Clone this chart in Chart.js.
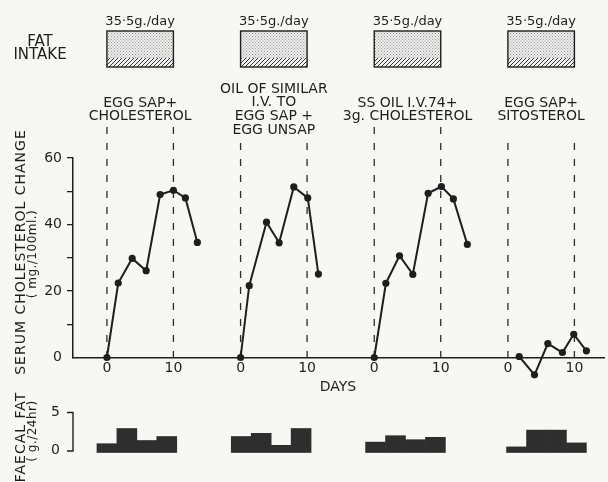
<!DOCTYPE html>
<html>
<head>
<meta charset="utf-8">
<script src="https://cdn.jsdelivr.net/npm/chart.js@4.4.1/dist/chart.umd.min.js"></script>
<style>
html,body{margin:0;padding:0;background:#f7f7f4;}
#wrap{width:608px;height:482px;position:relative;}
</style>
</head>
<body>
<div id="wrap"><canvas id="c" width="608" height="482"></canvas></div>
<script>
// ---------------- DATA ----------------
const PANEL_LABELS = [
  ['EGG SAP+', 'CHOLESTEROL'],
  ['OIL OF SIMILAR', 'I.V. TO', 'EGG SAP +', 'EGG UNSAP'],
  ['SS OIL I.V.74+', '3g. CHOLESTEROL'],
  ['EGG SAP+', 'SITOSTEROL']
];
const FAT_INTAKE = [35.5, 35.5, 35.5, 35.5];           // g./day
const X_TICK_DAYS = [0, 10];
const Y_TICKS = [0, 10, 20, 30, 40, 50, 60];
const Y_LABELLED = [0, 20, 40, 60];
const FF_TICKS = [0, 5];

// serum cholesterol change (mg./100ml.) vs day of each period
const DAYS_1 = [0, 1.7, 3.8, 5.9, 8.0, 10.0, 11.8, 13.6];
const CHOL_1 = [0, 22.4, 29.8, 26.1, 49.0, 50.3, 48.0, 34.6];
const DAYS_2 = [0, 1.3, 3.9, 5.8, 8.0, 10.1, 11.7];
const CHOL_2 = [0, 21.6, 40.7, 34.5, 51.3, 48.0, 25.1];
const DAYS_3 = [0, 1.75, 3.8, 5.8, 8.1, 10.1, 11.9, 14.0];
const CHOL_3 = [0, 22.3, 30.6, 25.0, 49.4, 51.4, 47.7, 34.0];
const DAYS_4 = [1.7, 4.0, 6.0, 8.2, 9.9, 11.8];
const CHOL_4 = [0.3, -5.2, 4.2, 1.5, 7.0, 2.0];

// faecal fat (g./24hr), 3-day collection periods (centre day)
const FF_DAYS_1 = [0, 3, 6, 9];
const FF_1 = [1.1, 3.0, 1.5, 2.0];
const FF_DAYS_2 = [0.1, 3.1, 6.1, 9.1];
const FF_2 = [2.0, 2.4, 0.9, 3.0];
const FF_DAYS_3 = [0.2, 3.2, 6.2, 9.2];
const FF_3 = [1.3, 2.1, 1.6, 1.9];
const FF_DAYS_4 = [1.3, 4.3, 7.3, 10.3];
const FF_4 = [0.7, 2.8, 2.8, 1.2];

// ---------------- LAYOUT ----------------
const PANEL_SPAN = 20.1;     // days between panel origins on the shared axis
const X_MIN = -5.1, X_MAX = 74.75;
const AREA_LEFT = 73, AREA_TOP = 158, AREA_BOTTOM = 357.5, H = 482;
const FF_ZERO_PX = 452.5, FF_PX_PER_UNIT = 8;
const DASH_TOP = [127, 143, 127, 143];
const LABEL_TOP = [103, 89, 103, 103];
const FONT = '"DejaVu Sans", sans-serif';
const INK = '#1e1e1e';

const chol = [[DAYS_1, CHOL_1], [DAYS_2, CHOL_2], [DAYS_3, CHOL_3], [DAYS_4, CHOL_4]];
const ff = [[FF_DAYS_1, FF_1], [FF_DAYS_2, FF_2], [FF_DAYS_3, FF_3], [FF_DAYS_4, FF_4]];

const ffMin = (FF_ZERO_PX - AREA_BOTTOM) / FF_PX_PER_UNIT;
const ffMax = ffMin + (AREA_BOTTOM - AREA_TOP) / FF_PX_PER_UNIT;

const datasets = [];
chol.forEach(([d, v], k) => {
  datasets.push({
    type: 'line', xAxisID: 'x', yAxisID: 'y',
    data: d.map((day, i) => ({x: day + k * PANEL_SPAN, y: v[i]})),
    borderColor: INK, borderWidth: 2, pointRadius: 3.6, pointBackgroundColor: INK,
    pointBorderWidth: 0, tension: 0, clip: false
  });
});
ff.forEach(([d, v], k) => {
  datasets.push({
    type: 'bar', xAxisID: 'x', yAxisID: 'yf', grouped: false,
    data: d.map((day, i) => ({x: day + k * PANEL_SPAN, y: [0, v[i]]})),
    backgroundColor: '#2e2e2e', borderWidth: 0, barPercentage: 1, categoryPercentage: 1,
    clip: false
  });
});

function makePattern(size, draw) {
  const c = document.createElement('canvas');
  c.width = size; c.height = size;
  const g = c.getContext('2d');
  draw(g);
  return c;
}

let savedArea = null;
const figurePlugin = {
  id: 'figure',
  beforeDatasetsDraw(chart) {
    const ctx = chart.ctx, xs = chart.scales.x, ys = chart.scales.y;
    ctx.save();
    ctx.strokeStyle = '#2a2a2a';
    ctx.lineWidth = 1.3;
    ctx.setLineDash([7, 9]);
    for (let k = 0; k < 4; k++) {
      X_TICK_DAYS.forEach(d => {
        const x = xs.getPixelForValue(k * PANEL_SPAN + d);
        ctx.beginPath();
        ctx.moveTo(x, DASH_TOP[k]);
        ctx.lineTo(x, ys.getPixelForValue(0));
        ctx.stroke();
      });
    }
    ctx.restore();
    // let points that dip below the zero line (unclipped datasets) be drawn
    savedArea = chart.chartArea;
    chart.chartArea = Object.assign({}, savedArea, {bottom: H, top: 0});
  },
  afterDatasetsDraw(chart) {
    if (savedArea) { chart.chartArea = savedArea; savedArea = null; }
  },
  afterDraw(chart) {
    const ctx = chart.ctx, xs = chart.scales.x, ys = chart.scales.y, yf = chart.scales.yf;
    const stip = ctx.createPattern(makePattern(3, g => {
      g.fillStyle = '#ededeb'; g.fillRect(0, 0, 3, 3);
      g.fillStyle = '#9c9c9c'; g.fillRect(0, 0, 1, 1); g.fillRect(1.5, 1.5, 1, 1);
    }), 'repeat');
    const hatch = ctx.createPattern(makePattern(4, g => {
      g.fillStyle = '#f0f0ee'; g.fillRect(0, 0, 4, 4);
      g.fillStyle = '#333';
      g.fillRect(0, 3, 1, 1); g.fillRect(1, 2, 1, 1); g.fillRect(2, 1, 1, 1); g.fillRect(3, 0, 1, 1);
    }), 'repeat');

    ctx.save();
    ctx.fillStyle = INK;
    ctx.textAlign = 'center';
    ctx.textBaseline = 'middle';

    // FAT INTAKE
    ctx.font = '15px ' + FONT;
    ctx.fillText('FAT', 40, 42);
    ctx.fillText('INTAKE', 40, 55);

    for (let k = 0; k < 4; k++) {
      const x0 = xs.getPixelForValue(k * PANEL_SPAN + 0);
      const x1 = xs.getPixelForValue(k * PANEL_SPAN + 10);
      const xm = xs.getPixelForValue(k * PANEL_SPAN + 5);
      // intake box
      ctx.fillStyle = stip;
      ctx.fillRect(x0, 31, x1 - x0, 27);
      ctx.fillStyle = hatch;
      ctx.fillRect(x0, 58, x1 - x0, 9);
      ctx.strokeStyle = INK; ctx.lineWidth = 1.4; ctx.setLineDash([]);
      ctx.strokeRect(x0, 31, x1 - x0, 36);
      ctx.fillStyle = INK;
      ctx.font = '13px ' + FONT;
      ctx.fillText(FAT_INTAKE[k].toFixed(1).replace('.', '\u00b7') + 'g./day', xm, 22);
      // treatment labels
      ctx.font = '14px ' + FONT;
      PANEL_LABELS[k].forEach((t, i) => ctx.fillText(t, xm, LABEL_TOP[k] + i * 13.8));
    }

    // DAYS
    ctx.font = '14px ' + FONT;
    ctx.fillText('DAYS', 338, 387);

    // faecal fat axis bracket
    const fy5 = yf.getPixelForValue(FF_TICKS[1]);
    const fy0 = yf.getPixelForValue(FF_TICKS[0]);
    ctx.strokeStyle = INK; ctx.lineWidth = 1.4;
    ctx.beginPath();
    ctx.moveTo(AREA_LEFT - 6, fy5); ctx.lineTo(AREA_LEFT, fy5);
    ctx.lineTo(AREA_LEFT, fy0 - 1.5); ctx.lineTo(AREA_LEFT - 6, fy0 - 1.5);
    ctx.stroke();
    ctx.textAlign = 'right';
    ctx.font = '14px ' + FONT;
    FF_TICKS.forEach(t => ctx.fillText(String(t), 60, yf.getPixelForValue(t) - (t === 0 ? 2 : 0)));

    // rotated axis titles
    const rot = (text, x, y, font, spacing) => {
      ctx.save();
      ctx.translate(x, y);
      ctx.rotate(-Math.PI / 2);
      ctx.textAlign = 'center';
      ctx.font = font;
      if ('letterSpacing' in ctx) ctx.letterSpacing = spacing + 'px';
      ctx.fillText(text, 0, 0);
      ctx.restore();
    };
    rot('SERUM CHOLESTEROL CHANGE', 21, 252, '14px ' + FONT, 1);
    rot('( mg./100ml.)', 33, 254, '12px ' + FONT, 0.5);
    rot('FAECAL FAT', 21, 437, '14px ' + FONT, 1);
    rot('( g./24hr)', 33, 431, '12px ' + FONT, 0.5);
    ctx.restore();
  }
};

new Chart(document.getElementById('c'), {
  data: {datasets},
  options: {
    responsive: false,
    animation: false,
    layout: {padding: {top: AREA_TOP, left: 0, right: 0, bottom: 0}},
    plugins: {legend: {display: false}, tooltip: {enabled: false}},
    scales: {
      x: {
        type: 'linear', position: 'bottom', min: X_MIN, max: X_MAX, offset: false,
        afterBuildTicks(s) {
          const t = [];
          for (let k = 0; k < 4; k++) X_TICK_DAYS.forEach(d => t.push({value: k * PANEL_SPAN + d}));
          s.ticks = t;
        },
        afterFit(s) { s.height = H - AREA_BOTTOM; },
        grid: {display: false, drawTicks: false, offset: false},
        border: {display: true, color: INK, width: 1.5},
        ticks: {
          padding: 2, color: INK, font: {family: FONT, size: 14},
          maxRotation: 0, autoSkip: false,
          callback(v) {
            const k = Math.floor((v + 0.5) / PANEL_SPAN);
            return String(Math.round(v - k * PANEL_SPAN));
          }
        }
      },
      y: {
        type: 'linear', position: 'left', min: 0, max: 60,
        afterBuildTicks(s) { s.ticks = Y_TICKS.map(v => ({value: v})); },
        afterFit(s) { s.width = AREA_LEFT; },
        grid: {
          drawOnChartArea: false, drawTicks: true, tickLength: 6, lineWidth: 1.3,
          color: c => (c.tick && c.tick.value === 0) ? 'rgba(0,0,0,0)' : INK
        },
        border: {display: true, color: INK, width: 1.5},
        ticks: {
          padding: 5, color: INK, font: {family: FONT, size: 14}, autoSkip: false,
          callback: v => Y_LABELLED.includes(v) ? String(v) : ''
        }
      },
      yf: {
        type: 'linear', display: false, min: ffMin, max: ffMax
      }
    }
  },
  plugins: [figurePlugin]
});
</script>
</body>
</html>
